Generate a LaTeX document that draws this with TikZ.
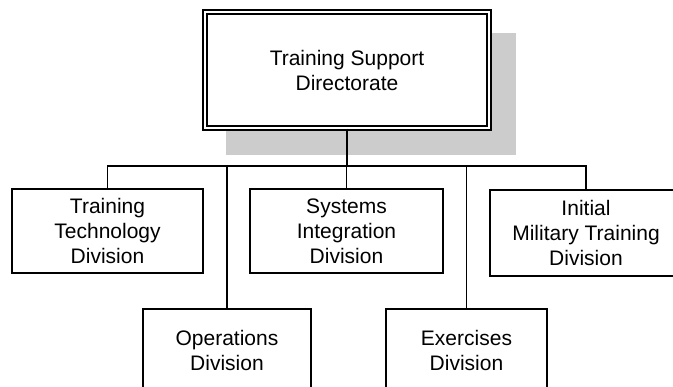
\documentclass[tikz,border=0pt]{standalone}
\usepackage{fontspec}
\setmainfont{Liberation Sans}
\begin{document}
\begin{tikzpicture}[x=1pt,y=-1pt,line width=1.3pt,
  unitbox/.style={draw, fill=white, align=center, inner sep=0pt,
    font=\fontsize{21}{25}\selectfont},
  link/.style={draw, line width=1.3pt}]
\useasboundingbox (0,0) rectangle (673,387);
% shadow
\fill[black!20] (226,33) rectangle (516,155);
% top box
\node[unitbox, double, double distance=2.7pt, minimum width=284pt, minimum height=116pt] (tsd) at (347,70) {Training Support\\Directorate};
% divisions
\node[unitbox, minimum width=191pt, minimum height=84pt] (ttd) at (107.5,231) {Training\\Technology\\Division};
\node[unitbox, minimum width=193pt, minimum height=84pt] (sid) at (346.5,231) {Systems\\Integration\\Division};
\node[unitbox, minimum width=192pt, minimum height=86pt] (imt) at (586,233) {Initial\\Military Training\\Division};
\node[unitbox, minimum width=168pt, minimum height=82pt] (ops) at (227,350) {Operations\\Division};
\node[unitbox, minimum width=161pt, minimum height=82pt] (exd) at (466.5,350) {Exercises\\Division};
% connectors
\coordinate (bus) at (347,166);
\draw[link] (tsd.south) -- (bus);
\draw[link] (ttd.north) -- (ttd.north |- bus) -- (imt.north |- bus) -- (imt.north);
\draw[link] (sid.north) -- (sid.north |- bus);
\draw[link] (ops.north) -- (ops.north |- bus);
\draw[link] (exd.north) -- (exd.north |- bus);
\end{tikzpicture}
\end{document}
